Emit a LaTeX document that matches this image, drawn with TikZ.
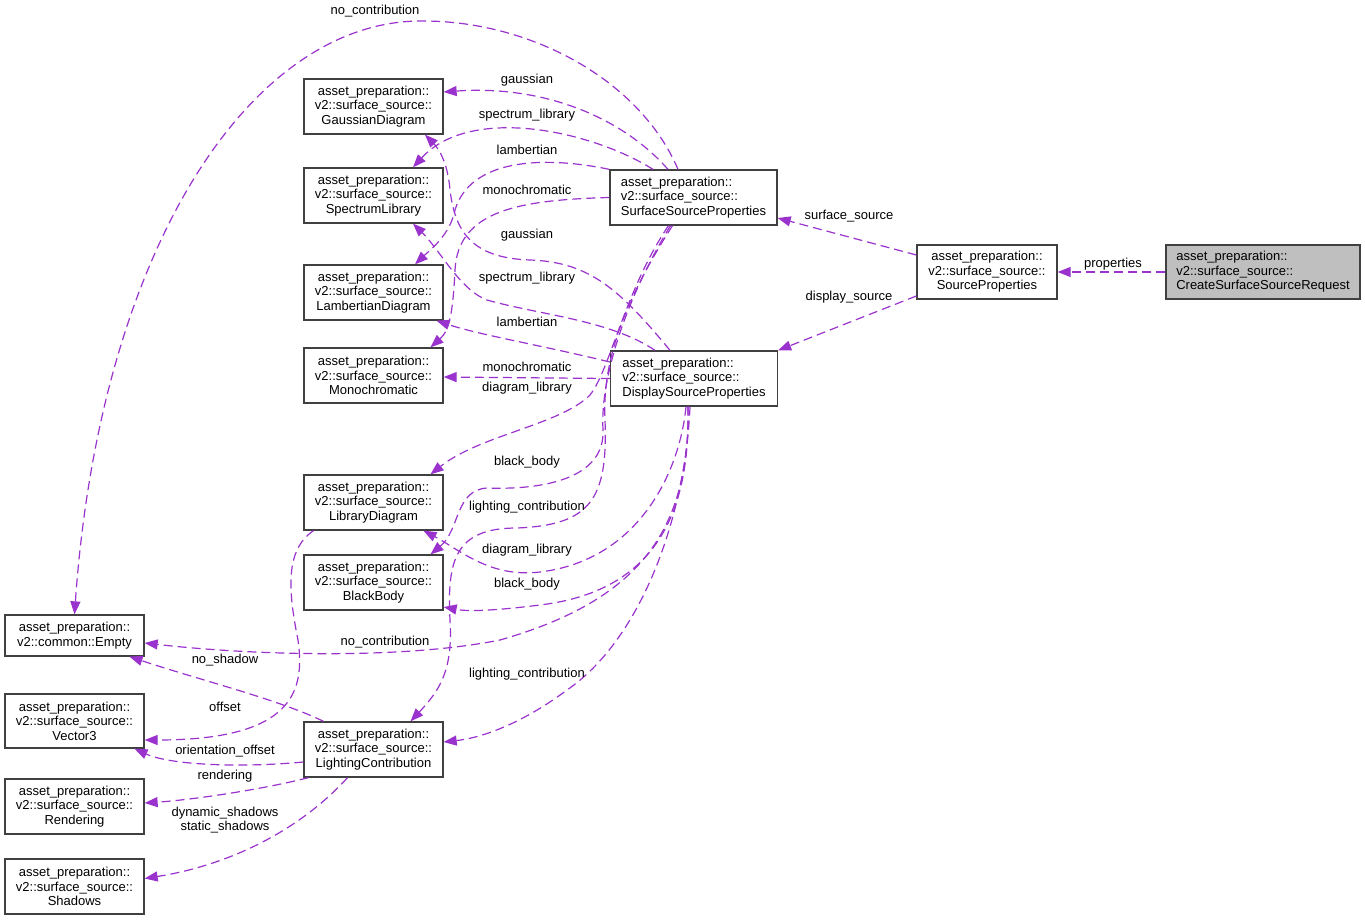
\documentclass[tikz,border=0pt]{standalone}
\usepackage{fontspec}
\setmainfont{Liberation Sans}
\usetikzlibrary{arrows.meta}
\definecolor{depline}{HTML}{9A32CD}
\definecolor{boxline}{HTML}{404040}
\definecolor{reqfill}{HTML}{BFBFBF}
\newcommand{\dgfont}{\fontsize{13pt}{14.5pt}\selectfont}

\begin{document}
\begin{tikzpicture}[
      x=1pt, y=-1pt,
      cls/.style={draw=boxline, line width=1.3pt, fill=white, minimum width=139pt, minimum height=55pt, inner sep=0pt, align=center, font=\dgfont},
      wide/.style={cls, minimum width=167pt, align=left},
      dep/.style={draw=depline, line width=1.2pt, dash pattern=on 9pt off 5pt, -{Triangle[length=13pt,width=10pt]}},
      lbl/.style={font=\dgfont, inner sep=0pt, text height=9.5pt, text depth=2.7pt}
      ]
    \useasboundingbox (0,0) rectangle (1365,920);

    \node[cls] (gauss) at (373.5,106.5) {asset\_preparation::\\v2::surface\_source::\\GaussianDiagram};
    \node[cls] (speclib) at (373.5,195.5) {asset\_preparation::\\v2::surface\_source::\\SpectrumLibrary};
    \node[cls] (lambert) at (373.5,292.5) {asset\_preparation::\\v2::surface\_source::\\LambertianDiagram};
    \node[cls] (mono) at (373.5,375.5) {asset\_preparation::\\v2::surface\_source::\\Monochromatic};
    \node[cls] (libdiag) at (373.5,502.5) {asset\_preparation::\\v2::surface\_source::\\LibraryDiagram};
    \node[cls] (blackbody) at (373.5,582.5) {asset\_preparation::\\v2::surface\_source::\\BlackBody};
    \node[cls] (lighting) at (373.5,749.5) {asset\_preparation::\\v2::surface\_source::\\LightingContribution};
    \node[cls, minimum height=41pt] (empty) at (74.5,635.5) {asset\_preparation::\\v2::common::Empty};
    \node[cls, minimum height=54pt] (vector3) at (74.5,721) {asset\_preparation::\\v2::surface\_source::\\Vector3};
    \node[cls] (rendering) at (74.5,806.5) {asset\_preparation::\\v2::surface\_source::\\Rendering};
    \node[cls] (shadows) at (74.5,886.5) {asset\_preparation::\\v2::surface\_source::\\Shadows};
    \node[wide] (ssp) at (693.5,197.5) {asset\_preparation::\\v2::surface\_source::\\SurfaceSourceProperties};
    \node[wide] (dsp) at (694,378.5) {asset\_preparation::\\v2::surface\_source::\\DisplaySourceProperties};
    \node[cls, minimum width=140pt, minimum height=54pt] (srcprops) at (987,272) {asset\_preparation::\\v2::surface\_source::\\SourceProperties};
    \node[wide, minimum width=194pt, minimum height=54pt, fill=reqfill] (request) at (1263,272) {asset\_preparation::\\v2::surface\_source::\\CreateSurfaceSourceRequest};

    \draw[dep] (request.west) -- (srcprops.east);
    \draw[dep] ([yshift=17pt]srcprops.west) -- ([yshift=-20.5pt]ssp.east);
    \draw[dep] ([yshift=-24pt]srcprops.west) -- (dsp.north east);

    \draw[dep] ([xshift=-25.5pt]ssp.north) .. controls (620,115) and (540,85) .. ([yshift=14.5pt]gauss.east);
    \draw[dep] ([xshift=-15.5pt]ssp.north) .. controls (640,80) and (530,20) .. (420,21) .. controls (250,22) and (100,250) .. (empty.north);
    \draw[dep] ([xshift=-40.5pt]ssp.north) .. controls (590,130) and (470,105) .. ([xshift=39.5pt]speclib.north);
    \draw[dep] (ssp.north west) .. controls (540,155) and (470,160) .. (455,210) .. controls (450,235) and (430,250) .. ([xshift=41.5pt]lambert.north);
    \draw[dep] (ssp.west) .. controls (520,200) and (458,210) .. (455,270) .. controls (453,310) and (450,330) .. ([xshift=57pt]mono.north);
    \draw[dep] ([xshift=-25pt]ssp.south) .. controls (625,290) and (610,370) .. (590,395) .. controls (560,425) and (480,435) .. ([xshift=57pt]libdiag.north);
    \draw[dep] ([xshift=-23pt]ssp.south) .. controls (625,300) and (600,380) .. (603,430) .. controls (605,480) and (540,490) .. (487,488) .. controls (455,490) and (460,530) .. ([xshift=57pt]blackbody.north);
    \draw[dep] ([xshift=-21pt]ssp.south) .. controls (625,300) and (602,360) .. (605,420) .. controls (608,500) and (590,525) .. (517,528) .. controls (455,528) and (447,560) .. (450,620) .. controls (453,670) and (440,690) .. ([xshift=37pt]lighting.north);

    \draw[dep] ([xshift=-24pt]dsp.north) .. controls (620,290) and (590,262) .. (530,260) .. controls (470,258) and (455,230) .. (450,190) .. controls (448,165) and (440,150) .. ([xshift=51.5pt]gauss.south);
    \draw[dep] ([xshift=-39pt]dsp.north) .. controls (610,320) and (540,315) .. (487,300) .. controls (460,290) and (440,250) .. ([xshift=39.5pt]speclib.south);
    \draw[dep] ([yshift=16.5pt]dsp.west) .. controls (540,345) and (480,335) .. ([xshift=63pt]lambert.south);
    \draw[dep] (dsp.west) -- ([yshift=-1.5pt]mono.east);
    \draw[dep] ([xshift=-8pt]dsp.south) .. controls (680,470) and (640,560) .. (540,572) .. controls (490,578) and (460,550) .. ([xshift=50pt]libdiag.south);
    \draw[dep] ([xshift=-6pt]dsp.south) .. controls (690,500) and (665,590) .. (540,605) .. controls (500,610) and (470,612) .. ([yshift=-24.5pt]blackbody.east);
    \draw[dep] ([xshift=-6pt]dsp.south) .. controls (690,530) and (640,600) .. (500,640) .. controls (400,660) and (250,655) .. ([yshift=-7.5pt]empty.east);
    \draw[dep] ([xshift=-4pt]dsp.south) .. controls (685,520) and (640,640) .. (567,690) .. controls (520,725) and (480,738) .. ([yshift=7.5pt]lighting.east);

    \draw[dep] ([xshift=-50pt]lighting.north) .. controls (280,700) and (200,680) .. ([xshift=55pt]empty.south);
    \draw[dep] ([xshift=-60pt]libdiag.south) .. controls (285,550) and (288,590) .. (298,640) .. controls (305,690) and (295,740) .. ([yshift=-19pt]vector3.east);
    \draw[dep] ([yshift=-12.5pt]lighting.west) .. controls (240,768) and (170,765) .. ([xshift=60pt]vector3.south);
    \draw[dep] ([xshift=-65pt]lighting.south) .. controls (260,790) and (190,800) .. ([yshift=3.5pt]rendering.east);
    \draw[dep] ([xshift=-26pt]lighting.south) .. controls (300,830) and (230,865) .. ([yshift=8pt]shadows.east);

    \node[lbl] (lprops) at (1113,264) {properties};
    \node[lbl] (lsurf) at (849,216) {surface\_source};
    \node[lbl] (ldisp) at (849,297) {display\_source};
    \node[lbl] (lnocontriba) at (375,11) {no\_contribution};
    \node[lbl] (lgaussa) at (527,80) {gaussian};
    \node[lbl] (lspeca) at (527,115) {spectrum\_library};
    \node[lbl] (llamba) at (527,151) {lambertian};
    \node[lbl] (lmonoa) at (527,191) {monochromatic};
    \node[lbl] (lgaussb) at (527,235) {gaussian};
    \node[lbl] (lspecb) at (527,278) {spectrum\_library};
    \node[lbl] (llambb) at (527,323) {lambertian};
    \node[lbl] (lmonob) at (527,368) {monochromatic};
    \node[lbl] (llibdiaga) at (527,388) {diagram\_library};
    \node[lbl] (lblacka) at (527,462) {black\_body};
    \node[lbl] (llighta) at (527,507) {lighting\_contribution};
    \node[lbl] (llibdiagb) at (527,550) {diagram\_library};
    \node[lbl] (lblackb) at (527,584) {black\_body};
    \node[lbl] (lnocontribb) at (385,642) {no\_contribution};
    \node[lbl] (llightb) at (527,674) {lighting\_contribution};
    \node[lbl] (lnoshadow) at (225,660) {no\_shadow};
    \node[lbl] (loffset) at (225,708) {offset};
    \node[lbl] (lorient) at (225,751) {orientation\_offset};
    \node[lbl] (lrender) at (225,776) {rendering};
    \node[font=\dgfont, inner sep=0pt, align=center] (lshadows) at (225,820) {dynamic\_shadows\\static\_shadows};

    \end{tikzpicture}
\end{document}
